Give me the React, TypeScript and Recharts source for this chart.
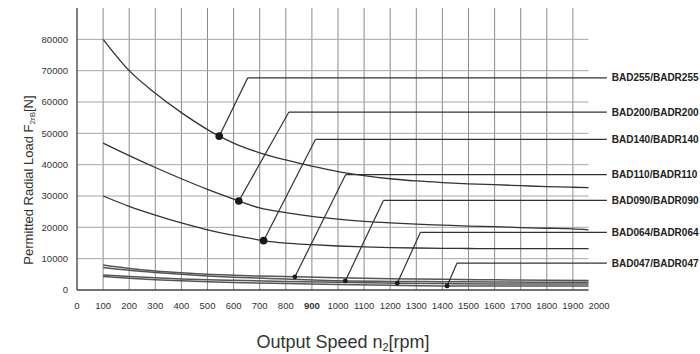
import React from "react";
import { LineChart, Line, XAxis, YAxis, ReferenceLine, ReferenceDot, Label } from "recharts";

const X_TICKS = [0, 100, 200, 300, 400, 500, 600, 700, 800, 900, 1000, 1100, 1200, 1300, 1400, 1500, 1600, 1700, 1800, 1900, 2000];
const Y_TICKS = [0, 10000, 20000, 30000, 40000, 50000, 60000, 70000, 80000];
const GRID_END = 1960;
const LABEL_END = 2030;

const MODELS = ["BAD255/BADR255", "BAD200/BADR200", "BAD140/BADR140", "BAD110/BADR110", "BAD090/BADR090", "BAD064/BADR064", "BAD047/BADR047"];

const BAD255_RPM = [100, 200, 300, 400, 500, 545, 600, 700, 800, 900, 1000, 1100, 1200, 1300, 1400, 1500, 1600, 1700, 1800, 1900, 1960];
const BAD255_LOAD = [80000, 70000, 62800, 56600, 51200, 49100, 46900, 43800, 41500, 39500, 37800, 36500, 35500, 34800, 34300, 33900, 33600, 33300, 33000, 32800, 32700];

const BAD200_RPM = [100, 200, 300, 400, 500, 600, 620, 700, 800, 900, 1000, 1100, 1200, 1300, 1400, 1500, 1600, 1700, 1800, 1900, 1960];
const BAD200_LOAD = [46900, 42900, 39100, 35500, 32100, 29000, 28400, 26200, 24700, 23500, 22600, 21900, 21400, 21000, 20700, 20400, 20200, 19900, 19700, 19500, 19200];

const BAD140_RPM = [100, 200, 300, 400, 500, 600, 700, 715, 800, 900, 1000, 1100, 1200, 1300, 1400, 1500, 1600, 1800, 1960];
const BAD140_LOAD = [30000, 26700, 23900, 21400, 19200, 17400, 15950, 15750, 14950, 14450, 14050, 13750, 13550, 13400, 13300, 13250, 13200, 13200, 13200];

const BAD110_RPM = [100, 200, 300, 400, 500, 600, 700, 835, 1000, 1200, 1400, 1600, 1800, 1960];
const BAD110_LOAD = [8000, 6900, 6100, 5500, 5000, 4700, 4450, 4200, 3900, 3600, 3400, 3250, 3100, 3000];

const BAD090_RPM = [100, 200, 300, 400, 500, 600, 700, 800, 1028, 1200, 1400, 1600, 1800, 1960];
const BAD090_LOAD = [7200, 6300, 5600, 5000, 4500, 4100, 3800, 3500, 2900, 2750, 2650, 2550, 2500, 2450];

const BAD064_RPM = [100, 200, 300, 400, 500, 600, 800, 1000, 1227, 1400, 1600, 1800, 1960];
const BAD064_LOAD = [4800, 4300, 3900, 3550, 3300, 3100, 2750, 2450, 2150, 2050, 1950, 1900, 1900];

const BAD047_RPM = [100, 200, 300, 400, 500, 600, 800, 1000, 1200, 1418, 1600, 1800, 1960];
const BAD047_LOAD = [4300, 3750, 3300, 2950, 2650, 2400, 2050, 1750, 1500, 1300, 1300, 1300, 1300];

// leader lines: dot on curve -> kink -> label
const DOT_RPM = [545, 620, 715, 835, 1028, 1227, 1418];
const DOT_LOAD = [49100, 28400, 15750, 4200, 2900, 2150, 1300];
const KINK_RPM = [654, 812, 914, 1029, 1174, 1316, 1456];
const LABEL_LOAD = [67700, 56800, 48100, 36800, 28600, 18400, 8600];

const FONT = "'Liberation Sans', Arial, sans-serif";
const INK = "#333";

const toPoints = (rpm: number[], load: number[]) => rpm.map((x, i) => ({ rpm: x, load: load[i] }));

const curves = [
  { data: toPoints(BAD255_RPM, BAD255_LOAD), color: "#333", width: 1.3 },
  { data: toPoints(BAD200_RPM, BAD200_LOAD), color: "#333", width: 1.3 },
  { data: toPoints(BAD140_RPM, BAD140_LOAD), color: "#333", width: 1.3 },
  { data: toPoints(BAD110_RPM, BAD110_LOAD), color: "#555", width: 1.5 },
  { data: toPoints(BAD090_RPM, BAD090_LOAD), color: "#555", width: 1.5 },
  { data: toPoints(BAD064_RPM, BAD064_LOAD), color: "#555", width: 1.5 },
  { data: toPoints(BAD047_RPM, BAD047_LOAD), color: "#555", width: 1.5 },
];

const XTick = ({ x, y, payload }: any) => (
  <text
    x={x}
    y={y + 18.5}
    textAnchor="middle"
    fontSize={9.5}
    fontFamily={FONT}
    fill={INK}
    fontWeight={payload.value === 900 ? "bold" : "normal"}
  >
    {payload.value}
  </text>
);

const XTitle = () => (
  <text x={343} y={348} textAnchor="middle" fontSize={18} fontFamily={FONT} fill={INK}>
    <tspan>Output Speed n</tspan>
    <tspan fontSize={11} dy={3}>2</tspan>
    <tspan dy={-3}>[rpm]</tspan>
  </text>
);

const YTitle = () => (
  <text
    x={33}
    y={180}
    textAnchor="middle"
    fontSize={13}
    fontFamily={FONT}
    fill={INK}
    transform="rotate(-90, 33, 180)"
  >
    <tspan>Permitted Radial Load F</tspan>
    <tspan fontSize={8} dy={2}>2rB</tspan>
    <tspan dy={-2}>[N]</tspan>
  </text>
);

export default function App() {
  return (
    <div style={{ position: "absolute", left: 0, top: 0, background: "#fff" }}>
      <LineChart width={700} height={354} margin={{ top: 8, right: 101, bottom: 34, left: 0 }}>
        <XAxis
          dataKey="rpm"
          type="number"
          domain={[0, 2000]}
          ticks={X_TICKS}
          interval={0}
          axisLine={false}
          tickLine={false}
          tickSize={0}
          tickMargin={0}
          height={30}
          tick={<XTick />}
        >
          <Label content={<XTitle />} />
        </XAxis>
        <YAxis
          dataKey="load"
          type="number"
          domain={[0, 90000]}
          ticks={Y_TICKS}
          interval={0}
          width={77}
          axisLine={{ stroke: "#555", strokeWidth: 1.5 }}
          tickLine={false}
          tickSize={0}
          tickMargin={9}
          tick={{ fontSize: 9.5, fill: INK, fontFamily: FONT }}
        >
          <Label content={<YTitle />} />
        </YAxis>

        {X_TICKS.filter((v) => v > 0 && v < 2000).map((v) => (
          <ReferenceLine key={`gx${v}`} x={v} stroke="#8c8c8c" strokeWidth={1} />
        ))}
        {Y_TICKS.filter((v) => v > 0).map((v) => (
          <ReferenceLine
            key={`gy${v}`}
            segment={[{ x: 0, y: v }, { x: GRID_END, y: v }]}
            stroke="#a6a6a6"
            strokeWidth={1}
          />
        ))}
        <ReferenceLine segment={[{ x: 0, y: 0 }, { x: GRID_END, y: 0 }]} stroke="#444" strokeWidth={1.5} />

        {curves.map((c, i) => (
          <Line
            key={`c${i}`}
            data={c.data}
            dataKey="load"
            type="monotone"
            stroke={c.color}
            strokeWidth={c.width}
            dot={false}
            activeDot={false}
            isAnimationActive={false}
          />
        ))}

        {MODELS.map((m, i) => (
          <ReferenceLine
            key={`k${i}`}
            segment={[{ x: DOT_RPM[i], y: DOT_LOAD[i] }, { x: KINK_RPM[i], y: LABEL_LOAD[i] }]}
            stroke={INK}
            strokeWidth={1.2}
            ifOverflow="visible"
          />
        ))}
        {MODELS.map((m, i) => (
          <ReferenceLine
            key={`h${i}`}
            segment={[{ x: KINK_RPM[i], y: LABEL_LOAD[i] }, { x: LABEL_END, y: LABEL_LOAD[i] }]}
            stroke={INK}
            strokeWidth={1.2}
            ifOverflow="visible"
            label={{ value: m, position: "right", offset: 5, fontSize: 10, fontWeight: "bold", fill: "#222", fontFamily: FONT }}
          />
        ))}
        {MODELS.map((m, i) => (
          <ReferenceDot
            key={`d${i}`}
            x={DOT_RPM[i]}
            y={DOT_LOAD[i]}
            r={i < 3 ? 3.8 : 2.4}
            fill="#1a1a1a"
            stroke="none"
            ifOverflow="visible"
          />
        ))}
      </LineChart>
    </div>
  );
}
